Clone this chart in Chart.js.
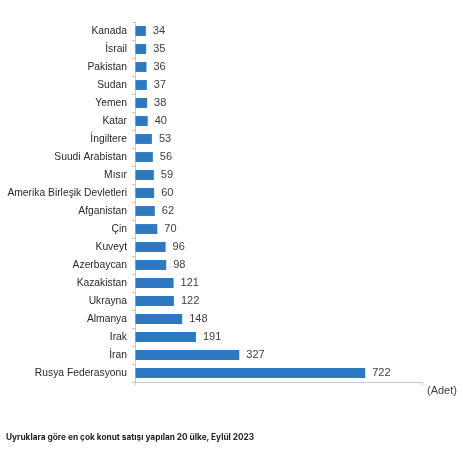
<!DOCTYPE html>
<html>
<head>
<meta charset="utf-8">
<script src="https://cdn.jsdelivr.net/npm/chart.js@4.4.0/dist/chart.umd.min.js"></script>
<style>
  html, body { margin: 0; padding: 0; background: #fff; }
  #wrap { position: relative; width: 463px; height: 450px; }
  #unit { position: absolute; left: 427px; top: 384px; font: 11px "Liberation Sans", Arial, sans-serif; color: #404040; }
  #caption { position: absolute; left: 6px; top: 432px; font: bold 8.3px Inter, "Open Sans", sans-serif; color: #222; white-space: nowrap; }
</style>
</head>
<body>
<div id="wrap">
  <canvas id="grafikUlke" width="463" height="450"></canvas>
  <div id="unit">(Adet)</div>
  <div id="caption">Uyruklara göre en çok konut satışı yapılan 20 ülke, Eylül 2023</div>
</div>
<script>
const ULKELER = ['Kanada', 'İsrail', 'Pakistan', 'Sudan', 'Yemen', 'Katar', 'İngiltere',
    'Suudi Arabistan', 'Mısır', 'Amerika Birleşik Devletleri', 'Afganistan', 'Çin', 'Kuveyt',
    'Azerbaycan', 'Kazakistan', 'Ukrayna', 'Almanya', 'Irak', 'İran', 'Rusya Federasyonu'];
const SATIS = [34, 35, 36, 37, 38, 40, 53, 56, 59, 60, 62, 70, 96, 98, 121, 122, 148, 191, 327, 722];
const X_MAX = 900;

// value labels to the right of each bar
const degerEtiketi = {
    id: 'degerEtiketi',
    afterDatasetsDraw(chart) {
        const ctx = chart.ctx;
        const meta = chart.getDatasetMeta(0);
        ctx.save();
        ctx.font = '11px "Liberation Sans", Arial, sans-serif';
        ctx.fillStyle = '#404040';
        ctx.textAlign = 'left';
        ctx.textBaseline = 'middle';
        meta.data.forEach(function(bar, i) {
            ctx.fillText(String(SATIS[i]), bar.x + 7, bar.y);
        });
        ctx.restore();
    }
};

const ctx = document.getElementById('grafikUlke').getContext('2d');

new Chart(ctx, {
    type: 'bar',
    data: {
        labels: ULKELER,
        datasets: [{
            label: 'Konut satışı',
            data: SATIS,
            backgroundColor: '#2e78c2',
            barPercentage: 0.55,
            categoryPercentage: 1
        }]
    },
    options: {
        indexAxis: 'y',
        responsive: false,
        animation: false,
        layout: { padding: { top: 22, right: 41, left: 0, bottom: 0 } },
        plugins: {
            legend: { display: false },
            tooltip: { enabled: false }
        },
        scales: {
            x: {
                min: 0,
                max: X_MAX,
                ticks: { display: false, stepSize: X_MAX },
                grid: { drawOnChartArea: false, tickLength: 3, color: '#c8c8c8' },
                border: { color: '#c8c8c8' },
                afterFit: function(scale) { scale.height = 68; }
            },
            y: {
                offset: true,
                ticks: {
                    color: '#2a2a2a',
                    font: { family: '"Liberation Sans", Arial, sans-serif', size: 10.3 },
                    padding: 5,
                    autoSkip: false
                },
                grid: { offset: true, drawOnChartArea: false, tickLength: 3, color: '#c8c8c8' },
                border: { color: '#c8c8c8' },
                afterFit: function(scale) { scale.width = 135; }
            }
        }
    },
    plugins: [degerEtiketi]
});
</script>
</body>
</html>
